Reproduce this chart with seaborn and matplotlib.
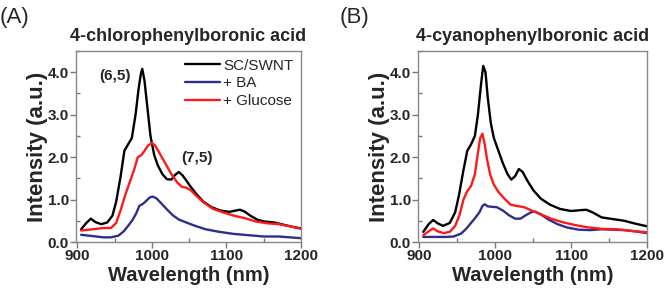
import numpy as np
import pandas as pd
import matplotlib
matplotlib.use("Agg")
import matplotlib.pyplot as plt
import seaborn as sns
from matplotlib.ticker import MultipleLocator, FormatStrFormatter

## data (wavelength in nm, intensity in a.u.)

a_black_x = [905, 912, 918, 924, 932, 940, 947, 952, 958, 963, 968, 973, 978, 982, 985, 987, 990, 994, 998, 1003, 1008, 1014, 1020, 1026, 1031, 1036, 1041, 1046, 1052, 1060, 1069, 1080, 1092, 1104, 1112, 1118, 1124, 1132, 1142, 1152, 1164, 1176, 1188, 1200]
a_black_y = [0.30, 0.45, 0.55, 0.47, 0.42, 0.46, 0.62, 0.95, 1.55, 2.15, 2.30, 2.45, 3.00, 3.60, 3.95, 4.08, 3.80, 3.15, 2.50, 2.05, 1.80, 1.60, 1.48, 1.47, 1.58, 1.65, 1.57, 1.45, 1.30, 1.12, 0.95, 0.82, 0.74, 0.71, 0.74, 0.76, 0.72, 0.62, 0.52, 0.48, 0.46, 0.41, 0.36, 0.32]

a_blue_x = [905, 920, 935, 945, 955, 962, 968, 974, 979, 983, 988, 993, 997, 1001, 1006, 1012, 1020, 1028, 1036, 1046, 1058, 1072, 1090, 1110, 1130, 1150, 1170, 1185, 1200]
a_blue_y = [0.17, 0.14, 0.11, 0.11, 0.15, 0.25, 0.38, 0.52, 0.68, 0.85, 0.90, 0.98, 1.05, 1.07, 1.03, 0.92, 0.77, 0.63, 0.53, 0.46, 0.38, 0.30, 0.24, 0.19, 0.16, 0.13, 0.13, 0.11, 0.09]

a_red_x = [905, 915, 925, 935, 945, 952, 958, 964, 970, 976, 981, 986, 990, 995, 1000, 1004, 1010, 1018, 1026, 1034, 1040, 1046, 1052, 1060, 1070, 1082, 1095, 1110, 1125, 1140, 1155, 1170, 1185, 1200]
a_red_y = [0.27, 0.29, 0.31, 0.33, 0.33, 0.45, 0.75, 1.10, 1.40, 1.70, 2.00, 2.05, 2.15, 2.28, 2.33, 2.28, 2.10, 1.85, 1.60, 1.40, 1.30, 1.28, 1.22, 1.08, 0.92, 0.78, 0.70, 0.62, 0.56, 0.48, 0.44, 0.42, 0.37, 0.31]

b_black_x = [905, 912, 918, 924, 931, 940, 947, 952, 958, 963, 968, 973, 977, 981, 984, 987, 990, 994, 998, 1004, 1010, 1016, 1021, 1026, 1031, 1036, 1042, 1050, 1060, 1072, 1085, 1100, 1112, 1120, 1128, 1140, 1155, 1170, 1185, 1200]
b_black_y = [0.24, 0.42, 0.52, 0.44, 0.38, 0.45, 0.70, 1.10, 1.70, 2.15, 2.30, 2.50, 3.00, 3.70, 4.15, 4.00, 3.40, 2.80, 2.45, 2.15, 1.85, 1.60, 1.47, 1.55, 1.72, 1.65, 1.45, 1.22, 1.02, 0.88, 0.78, 0.73, 0.75, 0.76, 0.70, 0.58, 0.54, 0.50, 0.43, 0.37]

b_blue_x = [905, 920, 935, 945, 955, 962, 968, 974, 979, 983, 986, 990, 995, 1002, 1010, 1018, 1026, 1033, 1040, 1047, 1052, 1060, 1070, 1082, 1095, 1110, 1125, 1140, 1155, 1170, 1185, 1200]
b_blue_y = [0.12, 0.12, 0.12, 0.13, 0.20, 0.32, 0.45, 0.58, 0.70, 0.85, 0.89, 0.84, 0.83, 0.82, 0.74, 0.63, 0.55, 0.55, 0.63, 0.70, 0.72, 0.65, 0.53, 0.42, 0.34, 0.29, 0.28, 0.30, 0.29, 0.28, 0.25, 0.21]

b_red_x = [905, 912, 918, 924, 932, 940, 947, 953, 958, 963, 968, 973, 977, 980, 983, 986, 989, 993, 998, 1004, 1012, 1020, 1028, 1038, 1048, 1060, 1075, 1090, 1105, 1120, 1140, 1160, 1180, 1200]
b_red_y = [0.16, 0.25, 0.32, 0.25, 0.21, 0.24, 0.38, 0.65, 1.00, 1.20, 1.32, 1.60, 2.10, 2.45, 2.55, 2.30, 1.95, 1.60, 1.35, 1.18, 1.02, 0.88, 0.85, 0.82, 0.74, 0.65, 0.54, 0.46, 0.40, 0.35, 0.31, 0.30, 0.26, 0.23]

series_names = ["SC/SWNT", "+ BA", "+ Glucose"]
colors = {"SC/SWNT": "#000000", "+ BA": "#2e2e8c", "+ Glucose": "#ff1a1a"}


def makeFrame(xs, ys):
    rows = []
    for name, x, y in zip(series_names, xs, ys):
        for xi, yi in zip(x, y):
            rows.append({"wl": xi, "I": yi, "series": name})
    return pd.DataFrame(rows)


df_a = makeFrame([a_black_x, a_blue_x, a_red_x], [a_black_y, a_blue_y, a_red_y])
df_b = makeFrame([b_black_x, b_blue_x, b_red_x], [b_black_y, b_blue_y, b_red_y])

sns.set_theme(style="ticks")
plt.rcParams["font.family"] = ["Liberation Sans", "DejaVu Sans"]

fig = plt.figure(figsize=(6.66, 2.96), dpi=100)
ax_a = fig.add_axes([0.114, 0.1824, 0.338, 0.6453])
ax_b = fig.add_axes([0.6276, 0.1824, 0.344, 0.6453])


def styleAxis(ax, title):
    ax.set_xlim(898, 1200)
    ax.set_ylim(0, 4.5)
    ax.xaxis.set_major_locator(MultipleLocator(100))
    ax.xaxis.set_minor_locator(MultipleLocator(50))
    ax.yaxis.set_major_locator(MultipleLocator(1.0))
    ax.yaxis.set_minor_locator(MultipleLocator(0.5))
    ax.yaxis.set_major_formatter(FormatStrFormatter("%.1f"))
    ax.tick_params(which="major", direction="out", length=4, width=1, color="#777777",
                   labelsize=11, pad=1)
    ax.tick_params(which="minor", direction="in", length=3, width=1, color="#777777")
    for lab in ax.get_xticklabels() + ax.get_yticklabels():
        lab.set_fontweight("bold")
    for sp in ax.spines.values():
        sp.set_visible(True)
        sp.set_color("#888888")
        sp.set_linewidth(1.0)
    ax.set_xlabel("Wavelength (nm)", fontsize=14.5, fontweight="bold", labelpad=2)
    ax.set_ylabel("Intensity (a.u.)", fontsize=16, fontweight="bold", labelpad=0)
    ax.set_title(title, fontsize=13, fontweight="bold", pad=7)


for ax, df, title in [(ax_a, df_a, "4-chlorophenylboronic acid"),
                      (ax_b, df_b, "4-cyanophenylboronic acid")]:
    sns.lineplot(data=df, x="wl", y="I", hue="series", palette=colors,
                 hue_order=series_names, linewidth=1.7, ax=ax, legend=(ax is ax_a),
                 sort=False, estimator=None)
    styleAxis(ax, title)

leg = ax_a.legend(loc="upper right", frameon=False, fontsize=11, handlelength=2.3,
                  handletextpad=0.2, labelspacing=0.25, borderaxespad=0.1,
                  bbox_to_anchor=(1.0, 1.0))

ax_a.text(951, 3.9, "(6,5)", fontsize=11, fontweight="bold", ha="center", va="center")
ax_a.text(1061, 1.98, "(7,5)", fontsize=11, fontweight="bold", ha="center", va="center")

fig.text(0.0, 0.975, "(A)", fontsize=16, ha="left", va="top")
fig.text(0.51, 0.975, "(B)", fontsize=16, ha="left", va="top")

plt.savefig("out.png", dpi=100)
plt.close()
